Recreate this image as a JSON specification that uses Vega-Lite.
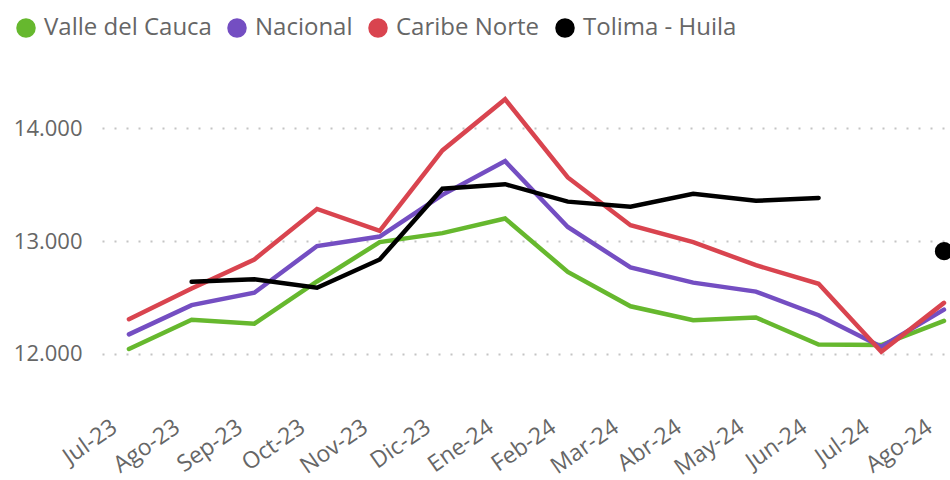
{
  "$schema": "https://vega.github.io/schema/vega-lite/v6.json",
  "width": 846,
  "height": 337.5,
  "autosize": {"type": "none"},
  "padding": {"left": 102, "top": 61, "right": 2, "bottom": 81.5},
  "background": "white",
  "config": {"view": {"stroke": null}, "font": "Open Sans"},
  "data": {
    "values": [
      {"mes": "Jul-23", "serie": "Valle del Cauca", "valor": 12040},
      {"mes": "Ago-23", "serie": "Valle del Cauca", "valor": 12300},
      {"mes": "Sep-23", "serie": "Valle del Cauca", "valor": 12265},
      {"mes": "Oct-23", "serie": "Valle del Cauca", "valor": 12640},
      {"mes": "Nov-23", "serie": "Valle del Cauca", "valor": 12990},
      {"mes": "Dic-23", "serie": "Valle del Cauca", "valor": 13070},
      {"mes": "Ene-24", "serie": "Valle del Cauca", "valor": 13200},
      {"mes": "Feb-24", "serie": "Valle del Cauca", "valor": 12725},
      {"mes": "Mar-24", "serie": "Valle del Cauca", "valor": 12420},
      {"mes": "Abr-24", "serie": "Valle del Cauca", "valor": 12295},
      {"mes": "May-24", "serie": "Valle del Cauca", "valor": 12320},
      {"mes": "Jun-24", "serie": "Valle del Cauca", "valor": 12080},
      {"mes": "Jul-24", "serie": "Valle del Cauca", "valor": 12075},
      {"mes": "Ago-24", "serie": "Valle del Cauca", "valor": 12290},
      {"mes": "Jul-23", "serie": "Nacional", "valor": 12170},
      {"mes": "Ago-23", "serie": "Nacional", "valor": 12430},
      {"mes": "Sep-23", "serie": "Nacional", "valor": 12540},
      {"mes": "Oct-23", "serie": "Nacional", "valor": 12955},
      {"mes": "Nov-23", "serie": "Nacional", "valor": 13040},
      {"mes": "Dic-23", "serie": "Nacional", "valor": 13410},
      {"mes": "Ene-24", "serie": "Nacional", "valor": 13710},
      {"mes": "Feb-24", "serie": "Nacional", "valor": 13125},
      {"mes": "Mar-24", "serie": "Nacional", "valor": 12765},
      {"mes": "Abr-24", "serie": "Nacional", "valor": 12630},
      {"mes": "May-24", "serie": "Nacional", "valor": 12550},
      {"mes": "Jun-24", "serie": "Nacional", "valor": 12340},
      {"mes": "Jul-24", "serie": "Nacional", "valor": 12060},
      {"mes": "Ago-24", "serie": "Nacional", "valor": 12390},
      {"mes": "Jul-23", "serie": "Caribe Norte", "valor": 12305},
      {"mes": "Ago-23", "serie": "Caribe Norte", "valor": 12578},
      {"mes": "Sep-23", "serie": "Caribe Norte", "valor": 12836},
      {"mes": "Oct-23", "serie": "Caribe Norte", "valor": 13285},
      {"mes": "Nov-23", "serie": "Caribe Norte", "valor": 13090},
      {"mes": "Dic-23", "serie": "Caribe Norte", "valor": 13805},
      {"mes": "Ene-24", "serie": "Caribe Norte", "valor": 14260},
      {"mes": "Feb-24", "serie": "Caribe Norte", "valor": 13565},
      {"mes": "Mar-24", "serie": "Caribe Norte", "valor": 13140},
      {"mes": "Abr-24", "serie": "Caribe Norte", "valor": 12990},
      {"mes": "May-24", "serie": "Caribe Norte", "valor": 12785},
      {"mes": "Jun-24", "serie": "Caribe Norte", "valor": 12620},
      {"mes": "Jul-24", "serie": "Caribe Norte", "valor": 12015},
      {"mes": "Ago-24", "serie": "Caribe Norte", "valor": 12450},
      {"mes": "Jul-23", "serie": "Tolima - Huila", "valor": null},
      {"mes": "Ago-23", "serie": "Tolima - Huila", "valor": 12637},
      {"mes": "Sep-23", "serie": "Tolima - Huila", "valor": 12660},
      {"mes": "Oct-23", "serie": "Tolima - Huila", "valor": 12585},
      {"mes": "Nov-23", "serie": "Tolima - Huila", "valor": 12836},
      {"mes": "Dic-23", "serie": "Tolima - Huila", "valor": 13465},
      {"mes": "Ene-24", "serie": "Tolima - Huila", "valor": 13505},
      {"mes": "Feb-24", "serie": "Tolima - Huila", "valor": 13350},
      {"mes": "Mar-24", "serie": "Tolima - Huila", "valor": 13305},
      {"mes": "Abr-24", "serie": "Tolima - Huila", "valor": 13420},
      {"mes": "May-24", "serie": "Tolima - Huila", "valor": 13357},
      {"mes": "Jun-24", "serie": "Tolima - Huila", "valor": 13383},
      {"mes": "Jul-24", "serie": "Tolima - Huila", "valor": null},
      {"mes": "Ago-24", "serie": "Tolima - Huila", "valor": 12910}
    ]
  },
  "encoding": {
    "x": {
      "field": "mes",
      "type": "ordinal",
      "sort": ["Jul-23", "Ago-23", "Sep-23", "Oct-23", "Nov-23", "Dic-23", "Ene-24", "Feb-24", "Mar-24", "Abr-24", "May-24", "Jun-24", "Jul-24", "Ago-24"],
      "scale": {"type": "point", "padding": 0.247, "align": 0.87},
      "axis": {
        "title": null,
        "labelAngle": -35,
        "labelFontSize": 23,
        "labelColor": "#666666",
        "ticks": false,
        "domain": false,
        "grid": false,
        "labelPadding": 17,
        "labelOffset": -21
      }
    },
    "y": {
      "field": "valor",
      "type": "quantitative",
      "scale": {"domain": [11600, 14600], "zero": false, "nice": false},
      "axis": {
        "title": null,
        "values": [12000, 13000, 14000],
        "labelExpr": "replace(format(datum.value, ','), ',', '.')",
        "labelFontSize": 22,
        "labelColor": "#666666",
        "ticks": false,
        "domain": false,
        "grid": true,
        "gridDash": [2, 10],
        "gridColor": "#c4c4c4",
        "gridWidth": 2,
        "labelPadding": 20
      }
    },
    "color": {
      "field": "serie",
      "type": "nominal",
      "scale": {
        "domain": ["Valle del Cauca", "Nacional", "Caribe Norte", "Tolima - Huila"],
        "range": ["#66b82e", "#744ec2", "#d9444f", "#000000"]
      },
      "legend": {
        "title": null,
        "orient": "none",
        "legendX": -88,
        "legendY": -45,
        "direction": "horizontal",
        "symbolType": "circle",
        "symbolSize": 380,
        "symbolStrokeWidth": 0,
        "labelFontSize": 24,
        "labelLimit": 500,
        "labelColor": "#666666",
        "labelFont": "Open Sans",
        "columnPadding": 13,
        "labelOffset": 6,
        "encode": {
          "symbols": {
            "update": {
              "fill": {"scale": "color", "field": "value"},
              "fillOpacity": {"value": 1}
            }
          }
        }
      }
    }
  },
  "layer": [
    {
      "mark": {"type": "line", "strokeWidth": 4.5, "strokeCap": "round"}
    },
    {
      "transform": [{"filter": "datum.serie == 'Tolima - Huila' && datum.mes == 'Ago-24'"}],
      "mark": {"type": "point", "filled": true, "size": 330, "opacity": 1}
    }
  ]
}
